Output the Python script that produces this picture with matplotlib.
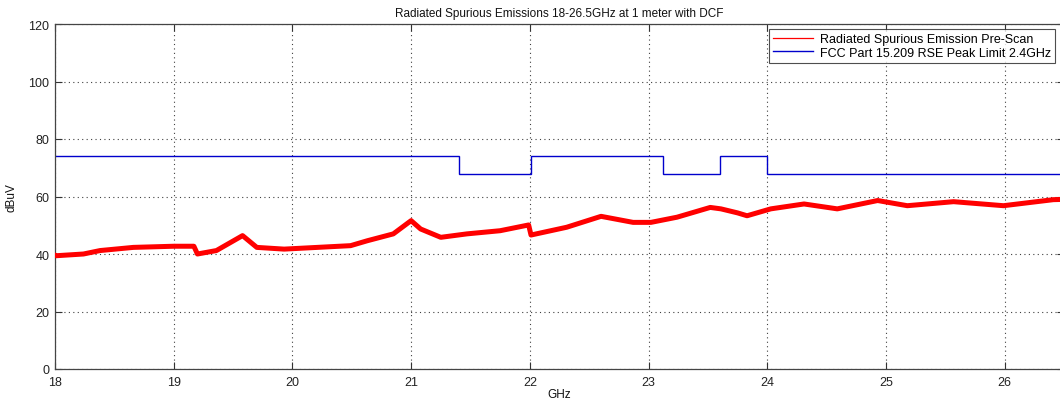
import matplotlib
matplotlib.use("Agg")
import matplotlib.pyplot as plt
from matplotlib.lines import Line2D

plt.rcParams['font.family'] = ['Liberation Sans', 'DejaVu Sans']

scan_freq = [18.0, 18.01, 18.24, 18.38, 18.66, 19.0, 19.17, 19.2, 19.36, 19.58, 19.7,
             19.93, 20.21, 20.49, 20.63, 20.85, 20.98, 21.0, 21.08, 21.25, 21.47,
             21.75, 21.99, 22.01, 22.31, 22.6, 22.87, 23.02, 23.24, 23.52, 23.61,
             23.75, 23.83, 24.03, 24.31, 24.59, 24.93, 25.18, 25.57, 25.99, 26.41, 26.5]
scan_level = [39.6, 39.4, 40.0, 41.2, 42.3, 42.7, 42.7, 40.0, 41.2, 46.4, 42.3,
              41.7, 42.3, 42.9, 44.6, 47.0, 51.0, 51.6, 48.7, 45.8, 47.0,
              48.1, 50.1, 46.6, 49.3, 53.1, 51.0, 51.0, 52.8, 56.2, 55.7,
              54.3, 53.3, 55.7, 57.4, 55.7, 58.6, 56.8, 58.2, 56.8, 58.9, 59.0]

# Limit line (step edges, GHz) and levels (dBuV)
limit_edges = [18.0, 21.4, 22.01, 23.12, 23.6, 24.0, 26.5]
limit_levels = [74, 68, 74, 68, 74, 68]

title = "Radiated Spurious Emissions 18-26.5GHz at 1 meter with DCF"
legend_labels = ["Radiated Spurious Emission Pre-Scan", "FCC Part 15.209 RSE Peak Limit 2.4GHz"]
x_ticks = [18, 19, 20, 21, 22, 23, 24, 25, 26]
y_ticks = [0, 20, 40, 60, 80, 100, 120]

W, H = 1060, 406
fig = plt.figure(figsize=(W / 100, H / 100), dpi=100)
left, right, top, bottom = 55, 1064, 25, 370
ax = fig.add_axes([left / W, 1 - bottom / H, (right - left) / W, (bottom - top) / H])

ax.plot(scan_freq, scan_level, color='#ff0000', lw=3.6, solid_joinstyle='round',
        label=legend_labels[0], zorder=3)
ax.stairs(limit_levels, limit_edges, color='#0000cc', lw=1.0, baseline=None,
          label=legend_labels[1], zorder=2)

ax.set_xlim(18, 26.5)
ax.set_ylim(0, 120)
ax.set_xticks(x_ticks)
ax.set_yticks(y_ticks)
ax.grid(True, linestyle=(0, (1, 3)), color='#404040', lw=0.8)
ax.tick_params(direction='in', length=5, width=0.8, color='#333333',
               labelsize=9, top=True, right=True, labelcolor='#222222')
ax.tick_params(axis='x', pad=5)
ax.tick_params(axis='y', pad=4)
for s in ax.spines.values():
    s.set_color('#444444')
    s.set_linewidth(0.9)

ax.set_title(title, fontsize=8.5, pad=6, color='#111111')
ax.set_xlabel("GHz", fontsize=8.5, labelpad=0, color='#111111')
ax.set_ylabel("dBuV", fontsize=8.5, labelpad=8, color='#111111')

handles = [Line2D([], [], color='#ff0000', lw=0.9), Line2D([], [], color='#0000cc', lw=1.0)]
leg = ax.legend(handles, legend_labels, loc='upper right',
                bbox_to_anchor=((1055 - left) / (right - left), 1 - 5 / (bottom - top)),
                fontsize=9, frameon=True, fancybox=False, handlelength=3.2,
                borderpad=0.35, labelspacing=0.1, handletextpad=0.5, borderaxespad=0)
leg.get_frame().set_edgecolor('#222222')
leg.get_frame().set_linewidth(0.8)

fig.savefig("out.png", dpi=100)
